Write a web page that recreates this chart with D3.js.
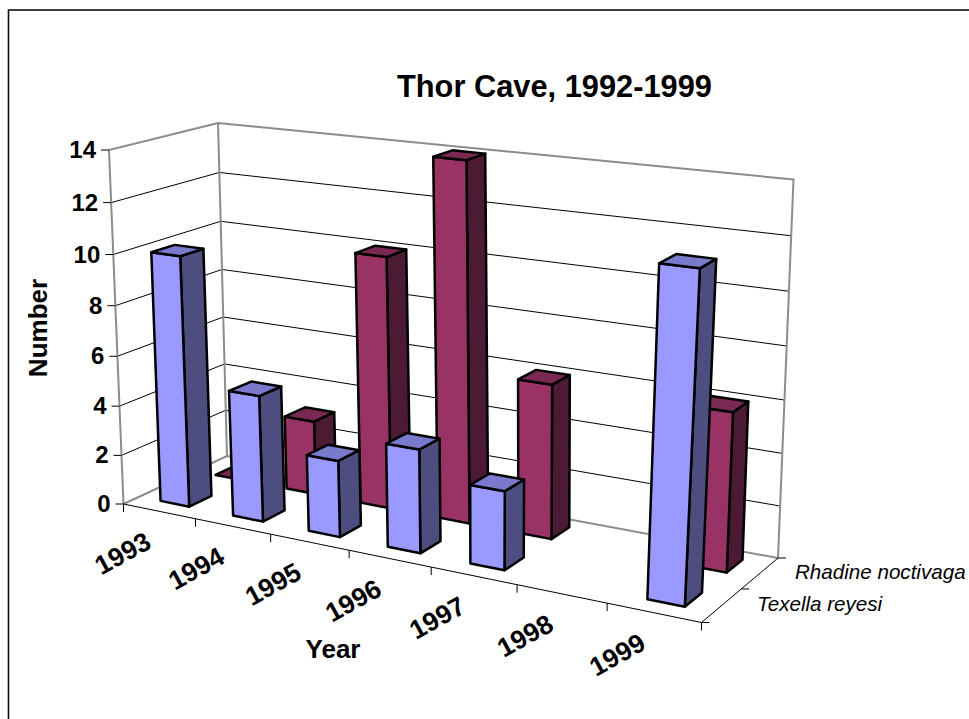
<!DOCTYPE html>
<html>
<head>
<meta charset="utf-8">
<script src="https://cdn.jsdelivr.net/npm/d3@7"></script>
<style>
  html, body { margin: 0; padding: 0; background: #fff; }
  svg { display: block; }
  text { font-family: "Liberation Sans", Arial, sans-serif; fill: #000; }
</style>
</head>
<body>
<svg id="chart" width="969" height="719"></svg>
<script>
const years = ["1993", "1994", "1995", "1996", "1997", "1998", "1999"];
const seriesNames = ["Texella reyesi", "Rhadine noctivaga"];
const texellaReyesi = [10, 5, 3, 4, 3, null, 12];
const rhadineNoctivaga = [0, 3, 10, 14, 6, null, 6];
const valueTicks = [0, 2, 4, 6, 8, 10, 12, 14];

const palette = {
  "Texella reyesi": { front: "#9999ff", side: "#4d4d80", top: "#7a7acc" },
  "Rhadine noctivaga": { front: "#993366", side: "#4d1a33", top: "#7a2952" }
};

const svg = d3.select("#chart");

// Box corners on screen: floor and ceiling planes of the 3D plot area.
const floorCorners = [[123.5, 504], [701.5, 622.5], [778, 558], [227, 456]];
const ceilingCorners = [[109, 150], [723, 219], [793.5, 179.5], [218, 123]];

// Homography mapping the unit square onto a screen quadrilateral.
function planeMap(q) {
  const [p0, p1, p2, p3] = q;
  const dx1 = p1[0] - p2[0], dx2 = p3[0] - p2[0], sx = p0[0] - p1[0] + p2[0] - p3[0];
  const dy1 = p1[1] - p2[1], dy2 = p3[1] - p2[1], sy = p0[1] - p1[1] + p2[1] - p3[1];
  const det = dx1 * dy2 - dx2 * dy1;
  const g = (sx * dy2 - dx2 * sy) / det;
  const h = (dx1 * sy - sx * dy1) / det;
  const a = p1[0] - p0[0] + g * p1[0], b = p3[0] - p0[0] + h * p3[0], c = p0[0];
  const d = p1[1] - p0[1] + g * p1[1], e = p3[1] - p0[1] + h * p3[1], f = p0[1];
  return (u, v) => {
    const w = g * u + h * v + 1;
    return [(a * u + b * v + c) / w, (d * u + e * v + f) / w];
  };
}
const floorAt = planeMap(floorCorners);
const ceilingAt = planeMap(ceilingCorners);

// Heights are slightly foreshortened towards the floor.
const heightBias = -0.045;
function project(u, v, t) {
  const s = t * (1 + heightBias) / (1 + heightBias * t);
  const a = floorAt(u, v), b = ceilingAt(u, v);
  return [a[0] + (b[0] - a[0]) * s, a[1] + (b[1] - a[1]) * s];
}

const xBand = d3.scaleBand().domain(years).range([0, 1]);
const xBar = d3.scaleBand().domain(years).range([0, 1])
  .paddingInner(0.6).paddingOuter(0.3).align(0.5);
const depthBar = d3.scaleBand().domain(seriesNames).range([0, 1])
  .paddingInner(0.6).paddingOuter(0.245).align(0.56);
const valueScale = d3.scaleLinear().domain([0, 14]).range([0, 1]);

const pathOf = pts => "M" + pts.map(p => p[0] + "," + p[1]).join("L") + "Z";
const lineOf = d3.line();

// Back walls and their gridlines.
const grid = svg.append("g").attr("fill", "none");
valueTicks.slice(1, -1).forEach(v => {
  const t = valueScale(v);
  grid.append("path")
    .attr("d", lineOf([project(0, 0, t), project(0, 1, t), project(1, 1, t)]))
    .attr("stroke", "#000").attr("stroke-width", 1);
});
grid.append("path")
  .attr("d", lineOf([project(0, 0, 0), project(0, 0, 1), project(0, 1, 1), project(1, 1, 1), project(1, 1, 0), project(0, 1, 0), project(0, 0, 0)]))
  .attr("stroke", "#8c8c8c").attr("stroke-width", 2);
grid.append("path")
  .attr("d", lineOf([project(0, 1, 0), project(0, 1, 1)]))
  .attr("stroke", "#8c8c8c").attr("stroke-width", 2);

// Front and side floor edges with tick marks.
const axes = svg.append("g").attr("fill", "none").attr("stroke", "#000").attr("stroke-width", 1);
axes.append("path").attr("d", lineOf([project(0, 0, 0), project(1, 0, 0), project(1, 1, 0)]));
d3.range(years.length + 1).forEach(i => {
  const p = project(i / years.length, 0, 0);
  axes.append("path").attr("d", lineOf([p, [p[0], p[1] + 8]]));
});
d3.range(seriesNames.length + 1).forEach(i => {
  const p = project(1, i / seriesNames.length, 0);
  axes.append("path").attr("d", lineOf([p, [p[0] + 8, p[1]]]));
});
valueTicks.forEach(v => {
  const p = project(0, 0, valueScale(v));
  axes.append("path").attr("d", lineOf([p, [p[0] - 8, p[1]]]));
});

// Columns, back row first.
const barGroup = svg.append("g").attr("stroke", "#000").attr("stroke-width", 2.5).attr("stroke-linejoin", "round");
function drawRow(name, values) {
  const colours = palette[name];
  const v0 = depthBar(name), v1 = v0 + depthBar.bandwidth();
  years.forEach((year, i) => {
    const value = values[i];
    if (value === null) return;
    const u0 = xBar(year), u1 = u0 + xBar.bandwidth();
    const t = valueScale(value);
    const g = barGroup.append("g");
    if (value > 0) {
      g.append("path").attr("fill", colours.side)
        .attr("d", pathOf([project(u1, v0, 0), project(u1, v1, 0), project(u1, v1, t), project(u1, v0, t)]));
      g.append("path").attr("fill", colours.front)
        .attr("d", pathOf([project(u0, v0, 0), project(u1, v0, 0), project(u1, v0, t), project(u0, v0, t)]));
    }
    g.append("path").attr("fill", colours.top)
      .attr("d", pathOf([project(u0, v0, t), project(u1, v0, t), project(u1, v1, t), project(u0, v1, t)]));
  });
}
drawRow("Rhadine noctivaga", rhadineNoctivaga);
drawRow("Texella reyesi", texellaReyesi);

// Text.
const labels = svg.append("g");
labels.append("text").attr("x", 554.5).attr("y", 97)
  .attr("text-anchor", "middle").attr("font-size", 30.8).attr("font-weight", "bold")
  .text("Thor Cave, 1992-1999");

valueTicks.forEach(v => {
  const p = project(0, 0, valueScale(v));
  labels.append("text").attr("x", p[0] - 13).attr("y", p[1] + 8)
    .attr("text-anchor", "end").attr("font-size", 24).attr("font-weight", "bold")
    .text(v);
});

years.forEach(year => {
  const p = project(xBand(year) + xBand.bandwidth() / 2, 0, 0);
  labels.append("text")
    .attr("transform", `translate(${p[0] - 32},${p[1] + 50}) rotate(-29)`)
    .attr("text-anchor", "middle").attr("font-size", 26.5).attr("font-weight", "bold")
    .text(year);
});

labels.append("text").attr("transform", "translate(47,328) rotate(-90)")
  .attr("text-anchor", "middle").attr("font-size", 26).attr("font-weight", "bold")
  .text("Number");
labels.append("text").attr("x", 333).attr("y", 658)
  .attr("text-anchor", "middle").attr("font-size", 26).attr("font-weight", "bold")
  .text("Year");

labels.append("text").attr("x", 795).attr("y", 579)
  .attr("font-size", 20.6).attr("font-style", "italic").text("Rhadine noctivaga");
labels.append("text").attr("x", 757).attr("y", 611)
  .attr("font-size", 20.6).attr("font-style", "italic").text("Texella reyesi");

// Outer chart border, open on the right and bottom.
svg.append("rect").attr("x", 8.5).attr("y", 10).attr("width", 975).attr("height", 730)
  .attr("fill", "none").attr("stroke", "#111").attr("stroke-width", 1.6);
</script>
</body>
</html>
